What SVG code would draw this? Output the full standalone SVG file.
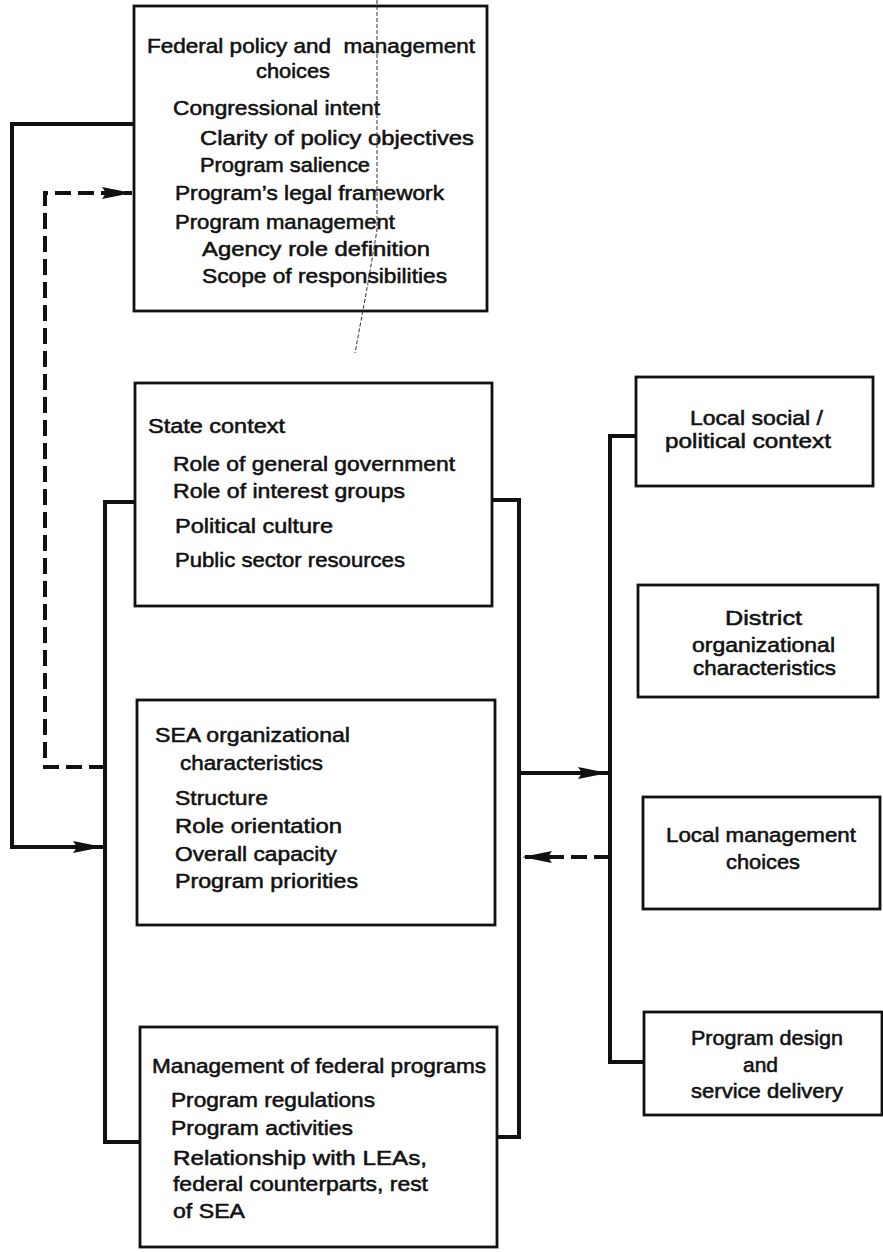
<svg xmlns="http://www.w3.org/2000/svg" width="883" height="1252" viewBox="0 0 883 1252">
<style>
.box{fill:#fff;stroke:#111;stroke-width:2.8}
.t{font-family:"Liberation Sans",Arial,Helvetica,sans-serif;font-size:21px;fill:#111;stroke:#111;stroke-width:0.55;white-space:pre}
.c{fill:none;stroke:#111;stroke-width:4}
.d{fill:none;stroke:#111;stroke-width:4;stroke-dasharray:16 7}
.scan{fill:none;stroke:#333;stroke-width:1;stroke-dasharray:4 2}
</style>
<defs>
<marker id="ah" markerUnits="userSpaceOnUse" markerWidth="32" markerHeight="14" refX="30" refY="7" orient="auto">
<path d="M0,1 L30,7 L0,13 L4,7 z" fill="#111"/>
</marker>
</defs>
<rect width="883" height="1252" fill="#fff"/>

<g id="connectors">
<path class="c" d="M134,124 H12 V847 H103" marker-end="url(#ah)"/>
<path class="d" d="M105,767 H45 V193 H132" marker-end="url(#ah)"/>
<path class="c" d="M135,502 H105 V1142 H140"/>
<path class="c" d="M492,500 H519 V1137 H497"/>
<path class="c" d="M519,773 H608" marker-end="url(#ah)"/>
<path class="d" d="M610,857 H522" marker-end="url(#ah)"/>
<path class="c" d="M636,436 H610 V1062 H644"/>
</g>

<g id="federal">
<rect class="box" x="134" y="6" width="353" height="305"/>
<text class="t" x="147" y="53" textLength="328" lengthAdjust="spacingAndGlyphs" xml:space="preserve">Federal policy and  management</text>
<text class="t" x="256" y="78" textLength="74" lengthAdjust="spacingAndGlyphs">choices</text>
<text class="t" x="173" y="115" textLength="207" lengthAdjust="spacingAndGlyphs">Congressional intent</text>
<text class="t" x="200" y="145" textLength="274" lengthAdjust="spacingAndGlyphs">Clarity of policy objectives</text>
<text class="t" x="200" y="172" textLength="170" lengthAdjust="spacingAndGlyphs">Program salience</text>
<text class="t" x="175" y="200" textLength="269" lengthAdjust="spacingAndGlyphs">Program’s legal framework</text>
<text class="t" x="175" y="229" textLength="220" lengthAdjust="spacingAndGlyphs">Program management</text>
<text class="t" x="202" y="256" textLength="228" lengthAdjust="spacingAndGlyphs">Agency role definition</text>
<text class="t" x="202" y="283" textLength="245" lengthAdjust="spacingAndGlyphs">Scope of responsibilities</text>
</g>

<g id="state">
<rect class="box" x="135" y="383" width="357" height="223"/>
<text class="t" x="148" y="433" textLength="137" lengthAdjust="spacingAndGlyphs">State context</text>
<text class="t" x="173" y="471" textLength="282" lengthAdjust="spacingAndGlyphs">Role of general government</text>
<text class="t" x="173" y="498" textLength="232" lengthAdjust="spacingAndGlyphs">Role of interest groups</text>
<text class="t" x="175" y="533" textLength="158" lengthAdjust="spacingAndGlyphs">Political culture</text>
<text class="t" x="175" y="567" textLength="230" lengthAdjust="spacingAndGlyphs">Public sector resources</text>
</g>

<g id="sea">
<rect class="box" x="137" y="700" width="358" height="225"/>
<text class="t" x="155" y="742" textLength="195" lengthAdjust="spacingAndGlyphs">SEA organizational</text>
<text class="t" x="180" y="770" textLength="143" lengthAdjust="spacingAndGlyphs">characteristics</text>
<text class="t" x="175" y="805" textLength="93" lengthAdjust="spacingAndGlyphs">Structure</text>
<text class="t" x="175" y="833" textLength="167" lengthAdjust="spacingAndGlyphs">Role orientation</text>
<text class="t" x="175" y="861" textLength="162" lengthAdjust="spacingAndGlyphs">Overall capacity</text>
<text class="t" x="175" y="888" textLength="183" lengthAdjust="spacingAndGlyphs">Program priorities</text>
</g>

<g id="management">
<rect class="box" x="140" y="1027" width="357" height="220"/>
<text class="t" x="152" y="1073" textLength="334" lengthAdjust="spacingAndGlyphs">Management of federal programs</text>
<text class="t" x="171" y="1107" textLength="204" lengthAdjust="spacingAndGlyphs">Program regulations</text>
<text class="t" x="171" y="1135" textLength="182" lengthAdjust="spacingAndGlyphs">Program activities</text>
<text class="t" x="173" y="1165" textLength="254" lengthAdjust="spacingAndGlyphs">Relationship with LEAs,</text>
<text class="t" x="173" y="1191" textLength="255" lengthAdjust="spacingAndGlyphs">federal counterparts, rest</text>
<text class="t" x="173" y="1218" textLength="72" lengthAdjust="spacingAndGlyphs">of SEA</text>
</g>

<g id="local-context">
<rect class="box" x="636" y="377" width="237" height="109"/>
<text class="t" x="690" y="425" textLength="133" lengthAdjust="spacingAndGlyphs">Local social /</text>
<text class="t" x="665" y="448" textLength="166" lengthAdjust="spacingAndGlyphs">political context</text>
</g>

<g id="district">
<rect class="box" x="638" y="585" width="240" height="112"/>
<text class="t" x="725" y="625" textLength="77" lengthAdjust="spacingAndGlyphs">District</text>
<text class="t" x="692" y="652" textLength="143" lengthAdjust="spacingAndGlyphs">organizational</text>
<text class="t" x="693" y="675" textLength="143" lengthAdjust="spacingAndGlyphs">characteristics</text>
</g>

<g id="local-management">
<rect class="box" x="643" y="797" width="237" height="112"/>
<text class="t" x="666" y="842" textLength="190" lengthAdjust="spacingAndGlyphs">Local management</text>
<text class="t" x="726" y="869" textLength="74" lengthAdjust="spacingAndGlyphs">choices</text>
</g>

<g id="program-design">
<rect class="box" x="644" y="1012" width="238" height="103"/>
<text class="t" x="691" y="1045" textLength="152" lengthAdjust="spacingAndGlyphs">Program design</text>
<text class="t" x="743" y="1072" textLength="35" lengthAdjust="spacingAndGlyphs">and</text>
<text class="t" x="691" y="1098" textLength="152" lengthAdjust="spacingAndGlyphs">service delivery</text>
</g>

<path class="scan" d="M377,0 L377,230 L368,283 L355,353"/>
</svg>
